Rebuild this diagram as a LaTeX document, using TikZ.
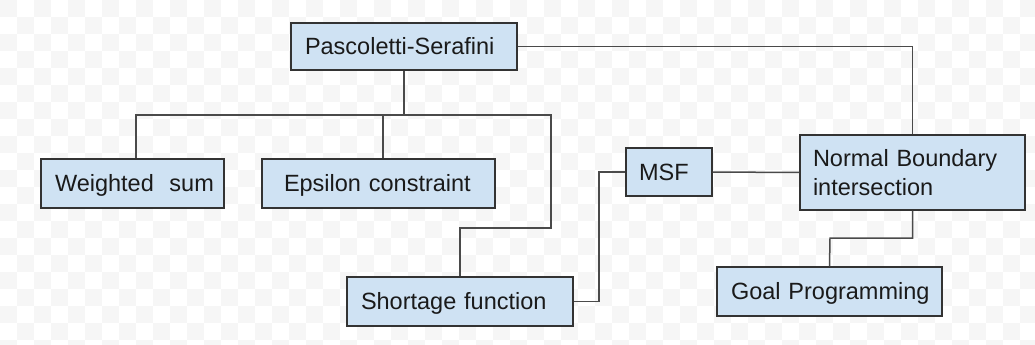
\documentclass[tikz,border=0pt]{standalone}
\usepackage{fontspec}
\setmainfont{Liberation Sans}
\definecolor{boxfill}{HTML}{CFE2F3}
\definecolor{boxline}{HTML}{333333}
\definecolor{conn}{HTML}{4A4A4A}
\definecolor{txt}{HTML}{1A1A1A}
\definecolor{chk}{HTML}{F6F6F6}
\begin{document}
\begin{tikzpicture}[x=1pt,y=-1pt,
  box/.style={draw=boxline, fill=boxfill, line width=1.3pt, inner xsep=14pt, inner ysep=0pt,
    align=left, text=txt, font=\fontsize{23.5}{29}\selectfont, anchor=center},
  one/.style={text height=16.8pt, text depth=0pt},
  conn/.style={draw=conn, line width=1.5pt}]
\useasboundingbox (0,0) rectangle (1035,345);
\fill[white] (0,0) rectangle (1035,345);
\foreach \i in {0,...,60} {\foreach \j in {0,...,20} {
  \pgfmathparse{int(mod(\i+\j,2))}
  \ifnum\pgfmathresult=0 \fill[chk] (\i*17,\j*17) rectangle ++(17,17);\fi
}}
\node[box, one, minimum width=226pt, text width=198pt, minimum height=47pt] (ps) at (404,46.5) {\mbox{Pascoletti-Serafini}};
\node[box, one, minimum width=183pt, text width=155pt, minimum height=49pt] (ws) at (132.5,183.5) {\mbox{Weighted\ \ sum}};
\node[box, one, minimum width=233pt, text width=189pt, inner xsep=22pt, minimum height=49pt] (ec) at (378.5,183.5) {\mbox{Epsilon constraint}};
\node[box, one, minimum width=226pt, text width=198pt, minimum height=49pt] (sf) at (460,301.5) {\mbox{Shortage function}};
\node[box, one, minimum width=86pt, text width=60pt, minimum height=48pt, inner xsep=13pt] (msf) at (669,172) {\mbox{MSF}};
\node[box, minimum width=225pt, text width=199pt, inner xsep=13pt, minimum height=75pt] (nbi) at (912.5,172.5) {\mbox{Normal Boundary}\\\mbox{intersection}};
\node[box, one, minimum width=225pt, text width=197pt, minimum height=49pt] (gp) at (829.5,291.5) {\mbox{Goal Programming}};
\coordinate (j1) at (404,115);
\coordinate (c1) at (551,228);
\coordinate (c2) at (599,301.5);
\coordinate (k1) at (830,238);
\draw[conn] (ps.south) -- (j1) -| ([xshift=3.5pt]ws.north);
\draw[conn] (j1) -| ([xshift=4.5pt]ec.north);
\draw[conn] (j1) -| (c1) -| (sf.north);
\draw[conn] (ps.east) -| (nbi.north);
\draw[conn] (sf.east) -- (c2) |- (msf.west);
\draw[conn] (msf.east) -- (nbi.west);
\draw[conn] (nbi.south) |- (k1) -- (gp.north);
\end{tikzpicture}
\end{document}
